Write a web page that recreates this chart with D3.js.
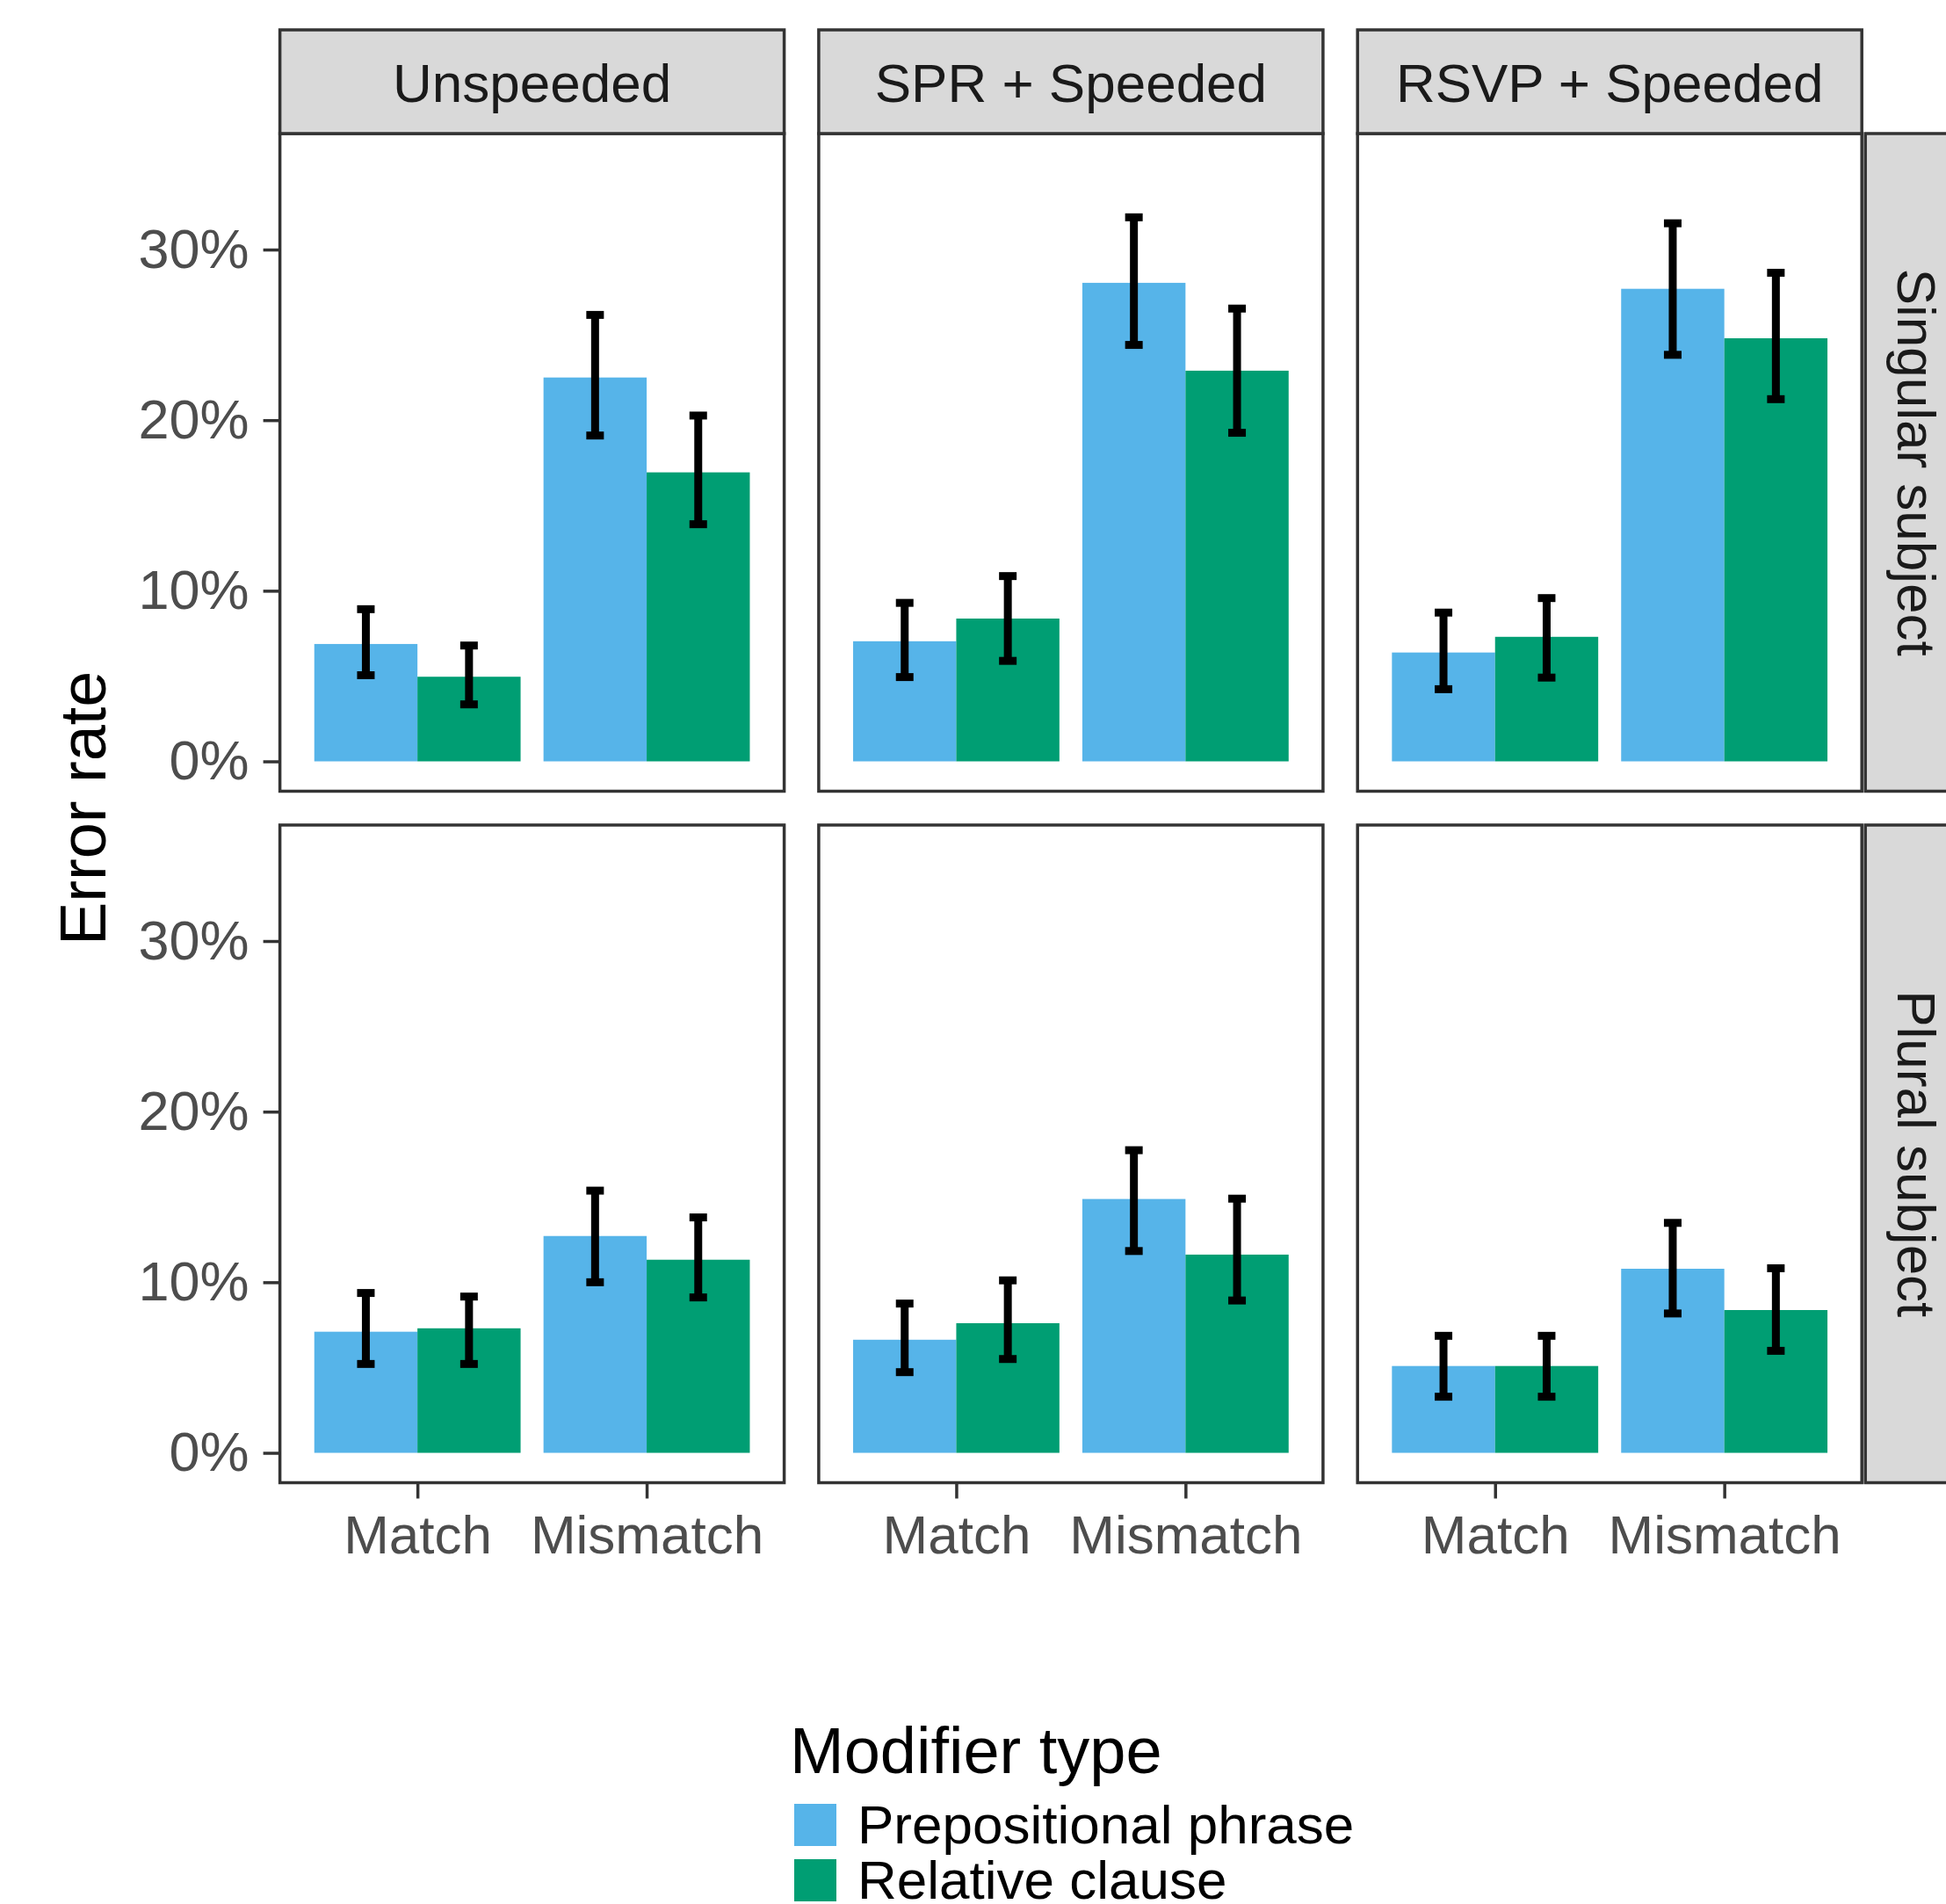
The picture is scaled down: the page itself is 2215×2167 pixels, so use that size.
<!DOCTYPE html>
<html>
<head>
<meta charset="utf-8">
<script src="https://cdn.jsdelivr.net/npm/d3@7"></script>
<style>
  body { margin: 0; background: #fff; }
  svg text { font-family: "Liberation Sans", Arial, Helvetica, sans-serif; }
</style>
</head>
<body>
<div id="chart"></div>
<script>
var conditions = ["Unspeeded", "SPR + Speeded", "RSVP + Speeded"];
var subjects = ["Singular subject", "Plural subject"];
var attractors = ["Match", "Mismatch"];
var modifiers = ["Prepositional phrase", "Relative clause"];
var yTicks = [0, 0.1, 0.2, 0.3];

// order in every array: Unspeeded Match, Unspeeded Mismatch, SPR Match, SPR Mismatch, RSVP Match, RSVP Mismatch
var sgPP     = [0.0688, 0.2250, 0.0704, 0.2805, 0.0638, 0.2770];
var sgPPlow  = [0.0505, 0.1910, 0.0494, 0.2441, 0.0423, 0.2383];
var sgPPhigh = [0.0892, 0.2617, 0.0929, 0.3189, 0.0872, 0.3154];
var sgRC     = [0.0496, 0.1694, 0.0837, 0.2290, 0.0730, 0.2480];
var sgRClow  = [0.0334, 0.1390, 0.0589, 0.1926, 0.0491, 0.2123];
var sgRChigh = [0.0679, 0.2027, 0.1086, 0.2654, 0.0957, 0.2864];

var plPP     = [0.0710, 0.1271, 0.0663, 0.1488, 0.0509, 0.1079];
var plPPlow  = [0.0521, 0.1000, 0.0473, 0.1183, 0.0329, 0.0817];
var plPPhigh = [0.0937, 0.1537, 0.0875, 0.1774, 0.0686, 0.1348];
var plRC     = [0.0730, 0.1132, 0.0760, 0.1162, 0.0509, 0.0837];
var plRClow  = [0.0521, 0.0911, 0.0550, 0.0893, 0.0329, 0.0598];
var plRChigh = [0.0916, 0.1380, 0.1011, 0.1490, 0.0686, 0.1082];

var width = 2215, height = 2167;
var panelLeft = 318.6, panelTop = 152, panelW = 574, panelH = 748.5;
var colGap = 39.3, rowGap = 38.5;
var stripH = 118;
var grey20 = "#333333";
var colors = {"Prepositional phrase": "#56B4E9", "Relative clause": "#009E73"};

var series = [
  [sgPP, sgPPlow, sgPPhigh, sgRC, sgRClow, sgRChigh],
  [plPP, plPPlow, plPPhigh, plRC, plRClow, plRChigh]
];

function rowsFor(si, ci) {
  var s = series[si], out = [];
  attractors.forEach(function(a, ai) {
    var k = ci * 2 + ai;
    out.push({att: a, mod: modifiers[0], v: s[0][k], lo: s[1][k], hi: s[2][k]});
    out.push({att: a, mod: modifiers[1], v: s[3][k], lo: s[4][k], hi: s[5][k]});
  });
  return out;
}

var svg = d3.select("#chart").append("svg")
  .attr("width", width)
  .attr("height", height);

var x = d3.scalePoint().domain(attractors).range([0, panelW]).padding(0.6);
var step = x.step();
var xMod = d3.scaleBand().domain(modifiers).range([-0.45 * step, 0.45 * step]);
var y = d3.scaleLinear().domain([-0.0175, 0.368]).range([panelH, 0]);

subjects.forEach(function(subj, si) {
  conditions.forEach(function(cond, ci) {
    var px = panelLeft + ci * (panelW + colGap);
    var py = panelTop + si * (panelH + rowGap);
    var g = svg.append("g").attr("transform", "translate(" + px + "," + py + ")");

    g.append("rect")
      .attr("width", panelW).attr("height", panelH)
      .attr("fill", "#fff");

    var data = rowsFor(si, ci);

    g.selectAll("rect.bar")
      .data(data)
      .enter().append("rect")
      .attr("class", "bar")
      .attr("x", function(d) { return x(d.att) + xMod(d.mod); })
      .attr("width", xMod.bandwidth())
      .attr("y", function(d) { return y(d.v); })
      .attr("height", function(d) { return y(0) - y(d.v); })
      .attr("fill", function(d) { return colors[d.mod]; });

    var eb = g.selectAll("g.err")
      .data(data)
      .enter().append("g")
      .attr("class", "err")
      .attr("transform", function(d) { return "translate(" + (x(d.att) + xMod(d.mod) + xMod.bandwidth() / 2) + ",0)"; });
    eb.append("line")
      .attr("y1", function(d) { return y(d.lo); })
      .attr("y2", function(d) { return y(d.hi); })
      .attr("stroke", "#000").attr("stroke-width", 9);
    ["lo", "hi"].forEach(function(k) {
      eb.append("line")
        .attr("x1", -10).attr("x2", 10)
        .attr("y1", function(d) { return y(d[k]); })
        .attr("y2", function(d) { return y(d[k]); })
        .attr("stroke", "#000").attr("stroke-width", 9);
    });

    g.append("rect")
      .attr("width", panelW).attr("height", panelH)
      .attr("fill", "none")
      .attr("stroke", grey20).attr("stroke-width", 3.5);

    // y axis on the first column
    if (ci === 0) {
      var ya = g.append("g")
        .call(d3.axisLeft(y).tickValues(yTicks).tickFormat(d3.format(".0%")).tickSize(19).tickPadding(16));
      ya.select(".domain").remove();
      ya.selectAll(".tick line").attr("stroke", grey20).attr("stroke-width", 3.5);
      ya.selectAll(".tick text").attr("fill", "#4D4D4D").style("font-size", "63px");
    }

    // x axis on the bottom row
    if (si === subjects.length - 1) {
      var xa = g.append("g")
        .attr("transform", "translate(0," + panelH + ")")
        .call(d3.axisBottom(x).tickSize(18).tickPadding(18));
      xa.select(".domain").remove();
      xa.selectAll(".tick line").attr("stroke", grey20).attr("stroke-width", 3.5);
      xa.selectAll(".tick text").attr("fill", "#4D4D4D").style("font-size", "62px");
    }

    // top strips
    if (si === 0) {
      var st = svg.append("g").attr("transform", "translate(" + px + "," + (panelTop - stripH) + ")");
      st.append("rect")
        .attr("width", panelW).attr("height", stripH)
        .attr("fill", "#D9D9D9")
        .attr("stroke", grey20).attr("stroke-width", 3.5);
      st.append("text")
        .attr("x", panelW / 2).attr("y", stripH / 2 + 23)
        .attr("text-anchor", "middle")
        .attr("fill", "#1A1A1A")
        .style("font-size", "62px")
        .text(cond);
    }

    // right strips
    if (ci === conditions.length - 1) {
      var rs = svg.append("g").attr("transform", "translate(" + (px + panelW + 4) + "," + py + ")");
      rs.append("rect")
        .attr("width", stripH).attr("height", panelH)
        .attr("fill", "#D9D9D9")
        .attr("stroke", grey20).attr("stroke-width", 3.5);
      rs.append("text")
        .attr("transform", "translate(" + (stripH / 2 - 22) + "," + (panelH / 2) + ") rotate(90)")
        .attr("text-anchor", "middle")
        .attr("fill", "#1A1A1A")
        .style("font-size", "62px")
        .text(subj);
    }
  });
});

// y axis title
svg.append("text")
  .attr("transform", "translate(120," + (panelTop + panelH + rowGap / 2) + ") rotate(-90)")
  .attr("text-anchor", "middle")
  .attr("fill", "#000")
  .style("font-size", "74px")
  .text("Error rate");

// legend
var legend = svg.append("g").attr("transform", "translate(899,0)");
legend.append("text")
  .attr("x", 0).attr("y", 2018)
  .attr("fill", "#000")
  .style("font-size", "74px")
  .text("Modifier type");

var items = legend.selectAll("g.item")
  .data(modifiers)
  .enter().append("g")
  .attr("class", "item")
  .attr("transform", function(d, i) { return "translate(5," + (2053 + i * 63) + ")"; });
items.append("rect")
  .attr("width", 48).attr("height", 48)
  .attr("fill", function(d) { return colors[d]; });
items.append("text")
  .attr("x", 72).attr("y", 45)
  .attr("fill", "#000")
  .style("font-size", "62px")
  .text(function(d) { return d; });
</script>
</body>
</html>
